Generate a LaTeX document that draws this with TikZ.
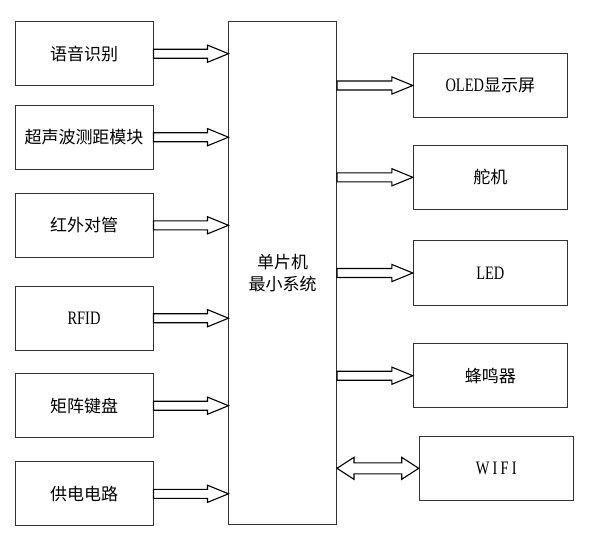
\documentclass[tikz,border=0pt]{standalone}
\usepackage{fontspec}
\setmainfont{Noto Sans CJK SC}
\newfontfamily\latf{Liberation Serif}[FakeStretch=0.76]
\newcommand\lat{\latf\fontsize{19}{22}\selectfont}
\usetikzlibrary{calc}
\newcommand\rarr[2]{\draw[barrow] let \p1=(#1), \p2=(#2) in
  (\x1,\y1+4.5pt) -- (\x2-21pt,\y1+4.5pt) -- (\x2-21pt,\y1+8.6pt) -- (\x2,\y1)
  -- (\x2-21pt,\y1-8.6pt) -- (\x2-21pt,\y1-4.5pt) -- (\x1,\y1-4.5pt) -- cycle;}
\newcommand\darr[2]{\draw[barrow] let \p1=(#1), \p2=(#2) in
  (\x1,\y1) -- (\x1+17pt,\y1+11pt) -- (\x1+17pt,\y1+5.5pt) -- (\x2-17pt,\y1+5.5pt)
  -- (\x2-17pt,\y1+11pt) -- (\x2,\y1) -- (\x2-17pt,\y1-11pt) -- (\x2-17pt,\y1-5.5pt)
  -- (\x1+17pt,\y1-5.5pt) -- (\x1+17pt,\y1-11pt) -- cycle;}
\begin{document}
\begin{tikzpicture}[x=1pt,y=-1pt,
  box/.style={draw=black!80, line width=1pt, inner sep=0pt, align=center,
    font=\fontsize{17}{22}\selectfont},
  lbox/.style={box, minimum width=138pt, minimum height=64pt},
  rbox/.style={box, minimum width=154pt, minimum height=64.4pt},
  barrow/.style={draw=black, line width=1.1pt, fill=white, line join=miter}]
\useasboundingbox (0,0) rectangle (590,536);
\node[box, minimum width=107.5pt, minimum height=502.6pt] (mcu) at (282.7,273) {单片机\\最小系统};
\node[lbox] (l1) at (84,53.7) {语音识别};
\node[lbox] (l2) at (84,137.2) {超声波测距模块};
\node[lbox] (l3) at (84,225.3) {红外对管};
\node[lbox] (l4) at (84,318.2) {{\lat RFID}};
\node[lbox] (l5) at (84,405.7) {矩阵键盘};
\node[lbox] (l6) at (84,493.8) {供电电路};
\node[rbox] (r1) at (490.3,85.5) {{\lat OLED}显示屏};
\node[rbox] (r2) at (490.3,177.3) {舵机};
\node[rbox] (r3) at (490.3,273) {{\lat LED}};
\node[rbox] (r4) at (490.3,375.7) {蜂鸣器};
\node[rbox] (w) at (496.2,468.3) {{\lat W\,I\,F\,I}};
\foreach \nm in {l1,l2,l3,l4,l5,l6} {\rarr{\nm.east}{\nm.east -| mcu.west}}
\foreach \nm in {r1,r2,r3,r4} {\rarr{mcu.east |- \nm.west}{\nm.west}}
\darr{mcu.east |- w.west}{w.west}
\end{tikzpicture}
\end{document}
